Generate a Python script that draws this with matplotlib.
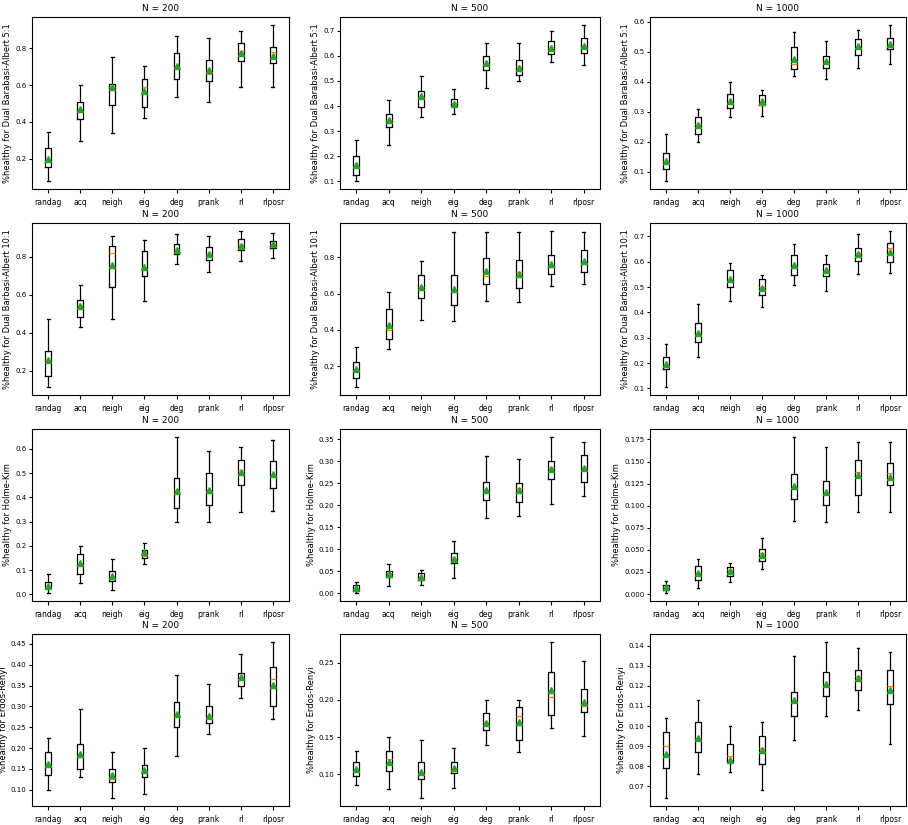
import matplotlib
matplotlib.use('Agg')
import matplotlib.pyplot as plt

plt.rcParams['font.size'] = 6
plt.rcParams['xtick.labelsize'] = 5.5
plt.rcParams['ytick.labelsize'] = 5
plt.rcParams['ytick.major.pad'] = 1.5
plt.rcParams['ytick.major.size'] = 2.5
plt.rcParams['xtick.major.size'] = 3

methods = ['randag', 'acq', 'neigh', 'eig', 'deg', 'prank', 'rl', 'rlposr']
sizes = ['N = 200', 'N = 500', 'N = 1000']
ylabels = ['%healthy for Dual Barabasi-Albert 5:1',
           '%healthy for Dual Barbasi-Albert 10:1',
           '%healthy for Holme-Kim',
           '%healthy for Erdos-Renyi']

# each panel: rows are whisker low, q1, median, q3, whisker high, mean
ba5_200 = [[0.078, 0.298, 0.341, 0.421, 0.537, 0.506, 0.592, 0.592],
           [0.156, 0.414, 0.490, 0.479, 0.635, 0.621, 0.730, 0.717],
           [0.187, 0.456, 0.588, 0.592, 0.700, 0.661, 0.786, 0.777],
           [0.256, 0.506, 0.606, 0.635, 0.773, 0.735, 0.827, 0.809],
           [0.347, 0.600, 0.751, 0.706, 0.865, 0.858, 0.891, 0.927],
           [0.200, 0.468, 0.588, 0.568, 0.704, 0.679, 0.773, 0.760]]
ba5_500 = [[0.100, 0.245, 0.355, 0.369, 0.471, 0.500, 0.576, 0.565],
           [0.123, 0.316, 0.396, 0.401, 0.545, 0.525, 0.607, 0.610],
           [0.160, 0.345, 0.436, 0.412, 0.568, 0.559, 0.633, 0.637],
           [0.201, 0.368, 0.461, 0.428, 0.599, 0.583, 0.659, 0.672],
           [0.264, 0.424, 0.519, 0.469, 0.652, 0.652, 0.699, 0.724],
           [0.165, 0.343, 0.439, 0.409, 0.572, 0.552, 0.632, 0.640]]
ba5_1000 = [[0.069, 0.198, 0.282, 0.287, 0.419, 0.408, 0.447, 0.460],
            [0.108, 0.226, 0.313, 0.323, 0.443, 0.447, 0.490, 0.507],
            [0.137, 0.260, 0.327, 0.323, 0.458, 0.469, 0.513, 0.520],
            [0.162, 0.281, 0.360, 0.355, 0.514, 0.484, 0.543, 0.546],
            [0.226, 0.309, 0.400, 0.371, 0.564, 0.536, 0.573, 0.589],
            [0.137, 0.257, 0.335, 0.335, 0.475, 0.468, 0.518, 0.525]]
ba10_200 = [[0.115, 0.430, 0.475, 0.565, 0.760, 0.720, 0.775, 0.795],
            [0.175, 0.485, 0.640, 0.700, 0.815, 0.780, 0.835, 0.845],
            [0.255, 0.545, 0.820, 0.735, 0.840, 0.815, 0.865, 0.865],
            [0.305, 0.570, 0.855, 0.830, 0.865, 0.850, 0.890, 0.880],
            [0.475, 0.650, 0.910, 0.885, 0.920, 0.910, 0.935, 0.925],
            [0.260, 0.540, 0.755, 0.745, 0.835, 0.815, 0.855, 0.865]]
ba10_500 = [[0.085, 0.295, 0.455, 0.450, 0.560, 0.555, 0.640, 0.650],
            [0.135, 0.350, 0.575, 0.535, 0.650, 0.630, 0.705, 0.720],
            [0.180, 0.400, 0.635, 0.615, 0.695, 0.720, 0.745, 0.770],
            [0.225, 0.515, 0.700, 0.700, 0.795, 0.785, 0.810, 0.840],
            [0.305, 0.610, 0.780, 0.940, 0.940, 0.940, 0.945, 0.940],
            [0.185, 0.425, 0.635, 0.625, 0.725, 0.710, 0.765, 0.780]]
ba10_1000 = [[0.105, 0.225, 0.445, 0.420, 0.510, 0.483, 0.553, 0.555],
             [0.175, 0.285, 0.500, 0.468, 0.548, 0.545, 0.603, 0.600],
             [0.190, 0.315, 0.525, 0.500, 0.580, 0.565, 0.635, 0.655],
             [0.225, 0.360, 0.567, 0.530, 0.625, 0.590, 0.655, 0.675],
             [0.275, 0.435, 0.595, 0.548, 0.670, 0.625, 0.710, 0.722],
             [0.195, 0.320, 0.530, 0.495, 0.588, 0.566, 0.630, 0.637]]
hk_200 = [[0.005, 0.045, 0.020, 0.125, 0.300, 0.300, 0.340, 0.345],
          [0.025, 0.085, 0.055, 0.150, 0.355, 0.370, 0.450, 0.440],
          [0.030, 0.120, 0.065, 0.160, 0.430, 0.425, 0.510, 0.490],
          [0.050, 0.165, 0.095, 0.185, 0.480, 0.500, 0.555, 0.550],
          [0.085, 0.200, 0.145, 0.210, 0.650, 0.590, 0.610, 0.635],
          [0.035, 0.130, 0.075, 0.175, 0.425, 0.430, 0.505, 0.495]]
hk_500 = [[0.000, 0.016, 0.018, 0.034, 0.172, 0.176, 0.202, 0.222],
          [0.005, 0.036, 0.030, 0.068, 0.213, 0.208, 0.260, 0.254],
          [0.010, 0.045, 0.035, 0.080, 0.235, 0.240, 0.285, 0.285],
          [0.018, 0.050, 0.045, 0.092, 0.254, 0.250, 0.300, 0.314],
          [0.025, 0.066, 0.052, 0.118, 0.312, 0.306, 0.356, 0.344],
          [0.012, 0.044, 0.037, 0.078, 0.236, 0.234, 0.282, 0.285]]
hk_1000 = [[0.001, 0.007, 0.014, 0.028, 0.083, 0.082, 0.093, 0.093],
           [0.005, 0.016, 0.021, 0.037, 0.108, 0.101, 0.112, 0.124],
           [0.008, 0.024, 0.027, 0.046, 0.120, 0.113, 0.138, 0.137],
           [0.010, 0.032, 0.031, 0.051, 0.136, 0.128, 0.152, 0.148],
           [0.015, 0.040, 0.035, 0.063, 0.178, 0.167, 0.172, 0.172],
           [0.008, 0.024, 0.026, 0.044, 0.122, 0.116, 0.135, 0.132]]
er_200 = [[0.100, 0.130, 0.080, 0.090, 0.180, 0.235, 0.320, 0.270],
          [0.135, 0.150, 0.120, 0.130, 0.250, 0.260, 0.350, 0.300],
          [0.160, 0.180, 0.125, 0.145, 0.285, 0.275, 0.365, 0.365],
          [0.190, 0.210, 0.150, 0.160, 0.310, 0.300, 0.380, 0.395],
          [0.225, 0.295, 0.190, 0.200, 0.375, 0.355, 0.425, 0.455],
          [0.162, 0.185, 0.135, 0.147, 0.282, 0.278, 0.370, 0.352]]
er_500 = [[0.086, 0.080, 0.068, 0.082, 0.140, 0.130, 0.162, 0.152],
          [0.098, 0.104, 0.094, 0.102, 0.160, 0.146, 0.180, 0.184],
          [0.105, 0.120, 0.102, 0.108, 0.170, 0.178, 0.204, 0.192],
          [0.116, 0.132, 0.116, 0.116, 0.182, 0.190, 0.238, 0.214],
          [0.132, 0.150, 0.146, 0.136, 0.200, 0.200, 0.278, 0.252],
          [0.107, 0.117, 0.103, 0.108, 0.169, 0.170, 0.213, 0.197]]
er_1000 = [[0.064, 0.076, 0.077, 0.068, 0.093, 0.105, 0.108, 0.091],
           [0.079, 0.087, 0.082, 0.081, 0.105, 0.115, 0.118, 0.111],
           [0.090, 0.094, 0.085, 0.089, 0.112, 0.120, 0.125, 0.120],
           [0.097, 0.102, 0.091, 0.095, 0.117, 0.127, 0.128, 0.128],
           [0.104, 0.113, 0.100, 0.102, 0.135, 0.142, 0.139, 0.137],
           [0.086, 0.094, 0.083, 0.088, 0.113, 0.121, 0.124, 0.118]]

panels = [[ba5_200, ba5_500, ba5_1000],
          [ba10_200, ba10_500, ba10_1000],
          [hk_200, hk_500, hk_1000],
          [er_200, er_500, er_1000]]

W, H = 908, 825
lefts = [32, 340, 650]
widths = [257, 260, 256]
tops = [17, 223, 429, 634]
ax_h = 172

fig = plt.figure(figsize=(W / 100, H / 100), dpi=100)

for r in range(4):
    for c in range(3):
        ax = fig.add_axes([lefts[c] / W, 1 - (tops[r] + ax_h) / H,
                           widths[c] / W, ax_h / H])
        d = panels[r][c]
        stats = []
        for i, m in enumerate(methods):
            stats.append({'label': m, 'whislo': d[0][i], 'q1': d[1][i],
                          'med': d[2][i], 'q3': d[3][i], 'whishi': d[4][i],
                          'mean': d[5][i], 'fliers': []})
        ax.bxp(stats, widths=0.18, showmeans=True,
               boxprops={'linewidth': 0.9}, whiskerprops={'linewidth': 0.9},
               capprops={'linewidth': 0.9}, medianprops={'linewidth': 0.9},
               meanprops={'markersize': 5})
        ax.set_title(sizes[c], fontsize=6.5, pad=4)
        ax.set_ylabel(ylabels[r], labelpad=2)
        for s in ax.spines.values():
            s.set_linewidth(0.8)

fig.savefig('out.png', dpi=100)
